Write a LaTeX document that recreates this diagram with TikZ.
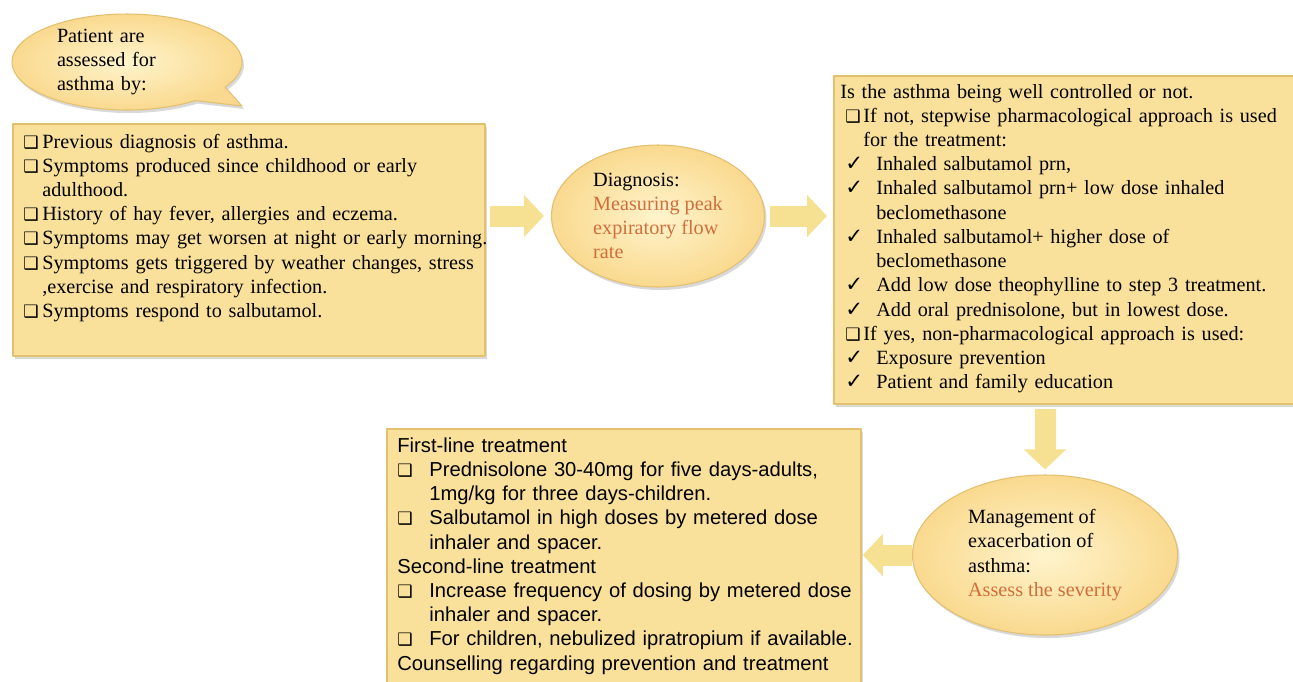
\documentclass[tikz,border=0pt]{standalone}
\usepackage{fontspec}
\setmainfont{Liberation Serif}
\newfontfamily\arialfont{Liberation Sans}
\newfontfamily\symfont{DejaVu Sans}[Scale=0.85]
\newfontfamily\ckfont{DejaVu Sans}[Scale=1.05]
\usetikzlibrary{shapes.geometric,shapes.callouts,shadows,arrows.meta}
\definecolor{gold}{RGB}{249,225,155}
\definecolor{goldedge}{RGB}{226,192,112}
\definecolor{goldlight}{RGB}{255,244,204}
\definecolor{arrowgold}{RGB}{246,224,146}
\definecolor{rust}{RGB}{208,110,60}
\newlength\px \setlength\px{0.02cm}
\newcommand\sqmark{{\symfont ❑}}
\newcommand\ckmark{{\ckfont ✓}}
\newcommand\hangitem[3]{\noindent\hangindent=#1\hangafter=1\makebox[#1][l]{#2}#3\par}
\newcommand\plainline[1]{\noindent#1\par}
\begin{document}
\begin{tikzpicture}[x=0.02cm, y=-0.02cm, line join=round,
  font=\fontsize{11.5}{13.8}\selectfont,
  box/.style={rectangle, fill=gold, draw=goldedge, line width=1pt, anchor=north west, inner sep=0,
    drop shadow={shadow xshift=2\px, shadow yshift=-3\px, opacity=0.3}},
  oval/.style={ellipse, inner color=goldlight, outer color=gold!92!orange, draw=goldedge, line width=0.6pt, inner sep=0,
    drop shadow={shadow xshift=2\px, shadow yshift=-3\px, opacity=0.3}},
  list/.style={anchor=base west, inner sep=0, align=left},
  blockarr/.style={line width=0.42cm, draw=arrowgold, -{Triangle[width=0.82cm, length=0.4cm]}}]
\useasboundingbox (0,0) rectangle (1293,681);
% callout
\node[oval, ellipse callout, callout absolute pointer={(242,106)}, callout pointer arc=22,
  minimum width=230\px, minimum height=96\px, text width=140\px, align=left] (assess) at (127,62)
  {Patient are\\ assessed for\\ asthma by:};
% boxes
\node[box, minimum width=472\px, minimum height=232\px] (box1) at (12,123) {};
\node[box, minimum width=470\px, minimum height=328\px] (box2) at (833,75) {};
\node[box, minimum width=474\px, minimum height=270\px] (box3) at (386,428) {};
% ellipses
\node[oval, minimum width=213\px, minimum height=142\px, align=left] (diag) at (658,216)
  {Diagnosis:\\ \textcolor{rust}{Measuring peak}\\ \textcolor{rust}{expiratory flow}\\ \textcolor{rust}{rate}};
\node[oval, minimum width=265\px, minimum height=160\px, align=left] (mgmt) at (1045,555)
  {Management of\\ exacerbation of\\ asthma:\\ \textcolor{rust}{Assess the severity}};
% texts
\node[list, text width=470\px] (list1) at (23,148)
  {\hangitem{19\px}{\sqmark}{Previous diagnosis of asthma.}
   \hangitem{19\px}{\sqmark}{Symptoms produced since childhood or early\newline adulthood.}
   \hangitem{19\px}{\sqmark}{History of hay fever, allergies and eczema.}
   \hangitem{19\px}{\sqmark}{Symptoms may get worsen at night or early morning.}
   \hangitem{19\px}{\sqmark}{Symptoms gets triggered by weather changes, stress\newline ,exercise and respiratory infection.}
   \hangitem{19\px}{\sqmark}{Symptoms respond to salbutamol.}};
\node[list, text width=445\px] (list2) at (840,98)
  {\plainline{Is the asthma being well controlled or not.}
   \hangitem{23\px}{\hspace{5\px}\sqmark}{If not, stepwise pharmacological approach is used\newline for the treatment:}
   \hangitem{36\px}{\hspace{5\px}\ckmark}{Inhaled salbutamol prn,}
   \hangitem{36\px}{\hspace{5\px}\ckmark}{Inhaled salbutamol prn+ low dose inhaled\newline beclomethasone}
   \hangitem{36\px}{\hspace{5\px}\ckmark}{Inhaled salbutamol+ higher dose of\newline beclomethasone}
   \hangitem{36\px}{\hspace{5\px}\ckmark}{Add low dose theophylline to step 3 treatment.}
   \hangitem{36\px}{\hspace{5\px}\ckmark}{Add oral prednisolone, but in lowest dose.}
   \hangitem{23\px}{\hspace{5\px}\sqmark}{If yes, non-pharmacological approach is used:}
   \hangitem{36\px}{\hspace{5\px}\ckmark}{Exposure prevention}
   \hangitem{36\px}{\hspace{5\px}\ckmark}{Patient and family education}};
\node[list, text width=470\px, font=\arialfont\fontsize{11.5}{13.8}\selectfont] (list3) at (397,452)
  {\plainline{First-line treatment}
   \hangitem{32\px}{\sqmark}{Prednisolone 30-40mg for five days-adults,\newline 1mg/kg for three days-children.}
   \hangitem{32\px}{\sqmark}{Salbutamol in high doses by metered dose\newline inhaler and spacer.}
   \plainline{Second-line treatment}
   \hangitem{32\px}{\sqmark}{Increase frequency of dosing by metered dose\newline inhaler and spacer.}
   \hangitem{32\px}{\sqmark}{For children, nebulized ipratropium if available.}
   \plainline{Counselling regarding prevention and treatment}};
% arrows
\draw[blockarr, shorten <=0.08cm, shorten >=0.14cm] (box1.east |- diag.west) -- (diag.west);
\draw[blockarr, shorten <=0.1cm, shorten >=0.12cm] (diag.east) -- (diag.east -| box2.west);
\draw[blockarr, shorten <=0.08cm, shorten >=0.1cm] (box2.south -| mgmt.north) -- (mgmt.north);
\draw[blockarr, shorten <=0cm, shorten >=0.02cm] (mgmt.west) -- (mgmt.west -| box3.east);
\end{tikzpicture}
\end{document}
